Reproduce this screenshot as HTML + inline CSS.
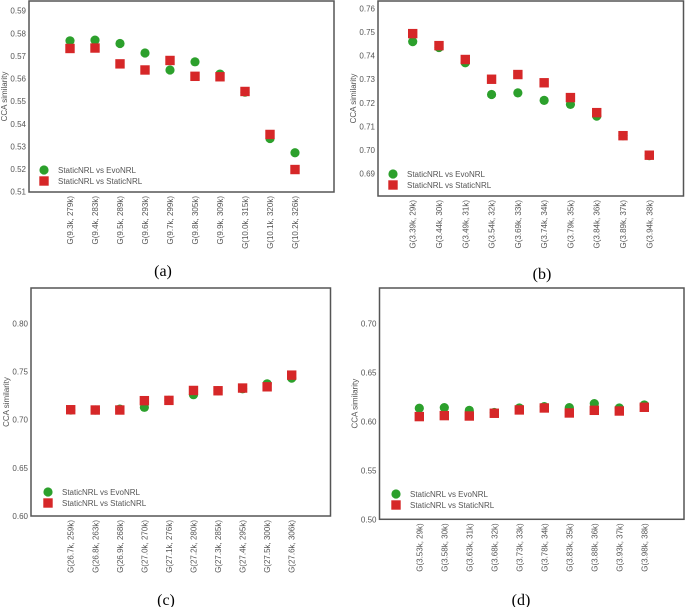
<!DOCTYPE html>
<html><head><meta charset="utf-8">
<style>
html,body{margin:0;padding:0;background:#fff;}
svg{display:block;font-family:"Liberation Sans",sans-serif;}
.tick{font-size:8px;fill:#555;}
.cap{font-family:"Liberation Serif",serif;font-size:16px;fill:#000;}
</style></head>
<body>
<svg id="fig" width="685" height="607" viewBox="0 0 685 607"></svg>
<script>
const catsA = ["G(9.3k, 279k)","G(9.4k, 283k)","G(9.5k, 289k)","G(9.6k, 293k)","G(9.7k, 299k)","G(9.8k, 305k)","G(9.9k, 309k)","G(10.0k, 315k)","G(10.1k, 320k)","G(10.2k, 326k)"];
const evoA = [0.5767,0.5770,0.5755,0.5713,0.5638,0.5674,0.5620,0.5540,0.5335,0.5272];
const statA = [0.5733,0.5735,0.5665,0.5638,0.5680,0.5610,0.5608,0.5543,0.5353,0.5198];
const ticksA = [0.51,0.52,0.53,0.54,0.55,0.56,0.57,0.58,0.59];

const catsB = ["G(3.39k, 29k)","G(3.44k, 30k)","G(3.49k, 31k)","G(3.54k, 32k)","G(3.69k, 33k)","G(3.74k, 34k)","G(3.79k, 35k)","G(3.84k, 36k)","G(3.89k, 37k)","G(3.94k, 38k)"];
const evoB = [0.7460,0.7435,0.7370,0.7235,0.7242,0.7210,0.7193,0.7143,0.7060,0.6975];
const statB = [0.7494,0.7443,0.7384,0.7300,0.7320,0.7285,0.7222,0.7158,0.7060,0.6977];
const ticksB = [0.69,0.70,0.71,0.72,0.73,0.74,0.75,0.76];

const catsC = ["G(26.7k, 259k)","G(26.8k, 263k)","G(26.9k, 268k)","G(27.0k, 270k)","G(27.1k, 276k)","G(27.2k, 280k)","G(27.3k, 285k)","G(27.4k, 295k)","G(27.5k, 300k)","G(27.6k, 306k)"];
const evoC = [0.7100,0.7100,0.7110,0.7128,0.7200,0.7259,0.7300,0.7320,0.7372,0.7431];
const statC = [0.7103,0.7100,0.7100,0.7197,0.7200,0.7303,0.7300,0.7328,0.7341,0.7462];
const ticksC = [0.60,0.65,0.70,0.75,0.80];

const catsD = ["G(3.53k, 29k)","G(3.58k, 30k)","G(3.63k, 31k)","G(3.68k, 32k)","G(3.73k, 33k)","G(3.78k, 34k)","G(3.83k, 35k)","G(3.88k, 36k)","G(3.93k, 37k)","G(3.98k, 38k)"];
const evoD = [0.6133,0.6140,0.6112,0.6090,0.6136,0.6150,0.6140,0.6180,0.6136,0.6167];
const statD = [0.6048,0.6058,0.6054,0.6082,0.6116,0.6136,0.6085,0.6112,0.6105,0.6143];
const ticksD = [0.50,0.55,0.60,0.65,0.70];

const NS="http://www.w3.org/2000/svg";
const svg=document.getElementById('fig');
function mk(tag,attrs,parent){const e=document.createElementNS(NS,tag);for(const k in attrs)e.setAttribute(k,attrs[k]);(parent||svg).appendChild(e);return e;}

function panel(p){
  const g=mk('g',{});
  
  
  const y=v=>p.y0+(v-p.v0)/(p.v1-p.v0)*(p.y1-p.y0);
  const x=i=>p.cx0+i*(p.cx1-p.cx0)/(p.cats.length-1);
  const fr=mk('rect',{x:p.left,y:p.top,width:p.right-p.left,height:p.bottom-p.top,fill:'#fff',stroke:'#555','stroke-width':1.5},g);
  
  
  p.ticks.forEach(t=>{
    const tx=mk('text',{x:p.left-3,y:y(t)+3,'text-anchor':'end',class:'tick'},g);
    tx.textContent=t.toFixed(2);
    
    
  });
  const yl=mk('text',{x:0,y:0,class:'tick','text-anchor':'middle',transform:`translate(${p.left-22},${(p.top+p.bottom)/2}) rotate(-90)`},g);
  yl.textContent='CCA similarity';
  
  
  p.cats.forEach((c,i)=>{
    const tx=mk('text',{x:0,y:0,class:'tick','text-anchor':'end',transform:`translate(${x(i)+3},${p.bottom+4}) rotate(-90)`},g);
    tx.textContent=c;
    
    
  });
  p.evo.forEach((v,i)=>{
    const c=mk('circle',{cx:x(i),cy:y(v),r:4.6,fill:'#2ca02c'},g);
    
    
  });
  p.stat.forEach((v,i)=>{
    const s=mk('rect',{x:x(i)-4.7,y:y(v)-4.7,width:9.4,height:9.4,fill:'#d62728'},g);
    
    
  });
  const lg=mk('g',{},g);
  
  
  const lc=mk('circle',{cx:p.lx,cy:p.ly,r:4.6,fill:'#2ca02c'},lg);
  
  
  const t1=mk('text',{x:p.lx+14,y:p.ly+3,class:'tick'},lg);
  t1.textContent='StaticNRL vs EvoNRL';
  
  
  const ls=mk('rect',{x:p.lx-4.7,y:p.ly+11-4.7,width:9.4,height:9.4,fill:'#d62728'},lg);
  
  
  const t2=mk('text',{x:p.lx+14,y:p.ly+14,class:'tick'},lg);
  t2.textContent='StaticNRL vs StaticNRL';
  
  
  const cap=mk('text',{x:p.capx,y:p.capy,class:'cap','text-anchor':'middle'},g);
  cap.textContent='('+p.id+')';
  
  
}

panel({id:'a',cats:catsA,evo:evoA,stat:statA,ticks:ticksA,left:29,right:334,top:1,bottom:192,v0:0.51,v1:0.59,y0:191.7,y1:10.7,cx0:70,cx1:295,lx:44,ly:170,capx:163,capy:276});
panel({id:'b',cats:catsB,evo:evoB,stat:statB,ticks:ticksB,left:378,right:683.5,top:1,bottom:196,v0:0.69,v1:0.76,y0:173.3,y1:8.7,cx0:412.7,cx1:649.3,lx:393,ly:174,capx:542,capy:279});
panel({id:'c',cats:catsC,evo:evoC,stat:statC,ticks:ticksC,left:31,right:330.5,top:288,bottom:516,v0:0.60,v1:0.80,y0:516,y1:323.3,cx0:70.7,cx1:291.7,lx:48,ly:492,capx:166,capy:605});
panel({id:'d',cats:catsD,evo:evoD,stat:statD,ticks:ticksD,left:379.5,right:684,top:288,bottom:519.3,v0:0.50,v1:0.70,y0:519.3,y1:323.3,cx0:419.3,cx1:644.3,lx:396,ly:494,capx:521,capy:605});
</script>
</body></html>
